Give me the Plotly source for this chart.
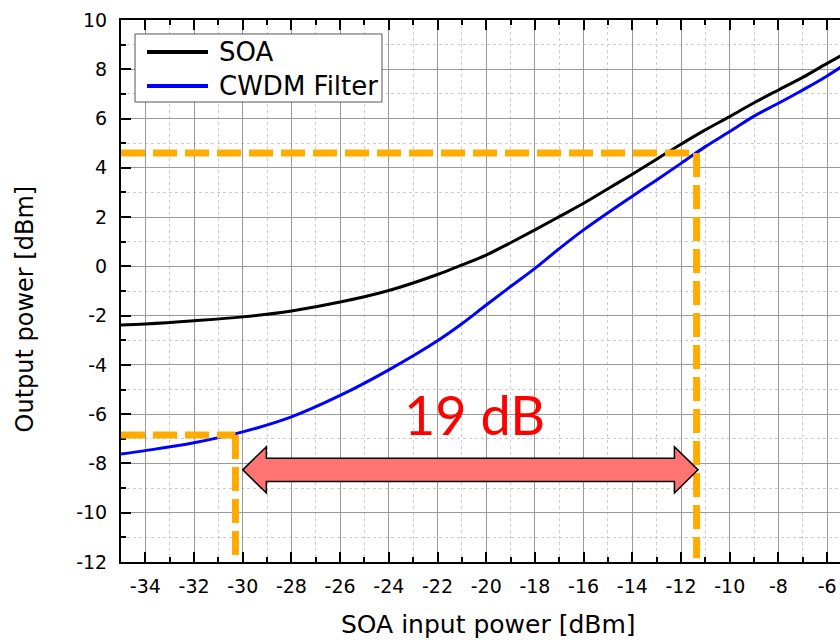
import plotly.graph_objects as go

# ---- data ----
x_in = [-35, -34, -32, -30, -28, -26, -24, -22, -21, -20, -19, -18, -17, -16,
        -15, -14, -13, -12, -11, -10, -9, -8, -7, -6, -5]
soa_out = [-2.38, -2.34, -2.21, -2.05, -1.81, -1.45, -0.98, -0.33, 0.06, 0.46,
           0.96, 1.48, 2.02, 2.56, 3.15, 3.74, 4.35, 4.96, 5.54, 6.08, 6.64,
           7.16, 7.67, 8.24, 8.78]
cwdm_out = [-7.62, -7.48, -7.16, -6.72, -6.11, -5.24, -4.20, -3.02, -2.33,
            -1.57, -0.82, -0.08, 0.72, 1.48, 2.18, 2.85, 3.51, 4.18, 4.86,
            5.47, 6.10, 6.62, 7.16, 7.73, 8.38]
series_names = ["SOA", "CWDM Filter"]
series_colors = ["black", "#0000FF"]

x_ticks = list(range(-34, -5, 2))
y_ticks = list(range(-12, 11, 2))

x_title = "SOA input power [dBm]"
y_title = "Output power [dBm]"

# annotation values
high_level = 4.6      # dBm, output level at upper marker
high_input = -11.36   # dBm input
low_level = -6.84
low_input = -30.3
arrow_left = -30.0
arrow_right = -11.3
arrow_y = -8.26
label_text = "19 dB"
label_x = -20.5
label_y = -6.0

FONT = "DejaVu Sans, Arial, sans-serif"
ORANGE = "#FFAB00"

fig = go.Figure()
for name, ys, col in zip(series_names, [soa_out, cwdm_out], series_colors):
    fig.add_trace(go.Scatter(x=x_in, y=ys, mode="lines", name=name, showlegend=False,
                             line=dict(color=col, width=3, shape="spline")))

x_min, y_min = -35, -12
dash = "24px,8px"
shapes = [
    dict(type="line", xref="x", yref="y", x0=x_min, x1=high_input, y0=high_level, y1=high_level,
         line=dict(color=ORANGE, width=7, dash=dash), layer="above"),
    dict(type="line", xref="x", yref="y", x0=high_input, x1=high_input, y0=high_level, y1=y_min + 0.15,
         line=dict(color=ORANGE, width=7, dash=dash), layer="above"),
    dict(type="line", xref="x", yref="y", x0=x_min, x1=low_input, y0=low_level, y1=low_level,
         line=dict(color=ORANGE, width=7, dash=dash), layer="above"),
    dict(type="line", xref="x", yref="y", x0=low_input, x1=low_input, y0=low_level, y1=y_min + 0.15,
         line=dict(color=ORANGE, width=7, dash=dash), layer="above"),
]

# double-headed arrow
head_len = 0.97
shaft_h = 0.47
head_h = 0.94
pts = [
    (arrow_left, arrow_y),
    (arrow_left + head_len, arrow_y + head_h),
    (arrow_left + head_len, arrow_y + shaft_h),
    (arrow_right - head_len, arrow_y + shaft_h),
    (arrow_right - head_len, arrow_y + head_h),
    (arrow_right, arrow_y),
    (arrow_right - head_len, arrow_y - head_h),
    (arrow_right - head_len, arrow_y - shaft_h),
    (arrow_left + head_len, arrow_y - shaft_h),
    (arrow_left + head_len, arrow_y - head_h),
]
path = "M " + " L ".join(f"{px},{py}" for px, py in pts) + " Z"
shapes.append(dict(type="path", xref="x", yref="y", path=path,
                   fillcolor="#FF7373", line=dict(color="black", width=1.5), layer="above"))

# legend box (drawn by hand so the sample lines match the original length)
shapes.append(dict(type="rect", xref="paper", yref="paper", x0=0.0195, x1=0.363,
                   y0=0.8487, y1=0.9742, fillcolor="white",
                   line=dict(color="#555555", width=1), layer="above"))
legend_rows_y = [0.941, 0.8782]
annotations = []
for name, col, ly in zip(series_names, series_colors, legend_rows_y):
    shapes.append(dict(type="line", xref="paper", yref="paper", x0=0.0362, x1=0.121,
                       y0=ly, y1=ly, line=dict(color=col, width=4), layer="above"))
    annotations.append(dict(xref="paper", yref="paper", x=0.1335, y=ly, text=name,
                            showarrow=False, xanchor="left", yanchor="middle",
                            font=dict(size=26, family=FONT, color="black")))

annotations.append(dict(x=label_x, y=label_y, xref="x", yref="y", text=label_text,
                        showarrow=False, font=dict(family="Lato, sans-serif", size=54, color="#FF0000")))
# axis titles
annotations.append(dict(xref="paper", yref="paper", x=0.5118, y=-0.1155, text=x_title,
                        showarrow=False, xanchor="center", yanchor="middle",
                        font=dict(size=25, family=FONT, color="black")))
annotations.append(dict(xref="paper", yref="paper", x=-0.1335, y=0.466, text=y_title,
                        showarrow=False, xanchor="center", yanchor="middle", textangle=-90,
                        font=dict(size=24, family=FONT, color="black")))

fig.update_layout(
    width=840, height=640,
    margin=dict(l=121, r=0, t=20, b=78),
    paper_bgcolor="white", plot_bgcolor="white",
    font=dict(family=FONT, color="black", size=19),
    shapes=shapes,
    annotations=annotations,
    showlegend=False,
)

fig.update_xaxes(
    range=[-35, -5.47], tickvals=x_ticks, ticktext=[str(v) for v in x_ticks],
    showline=True, linecolor="black", linewidth=2, mirror="ticks",
    ticks="inside", ticklen=10, tickwidth=2, tickcolor="black",
    showgrid=True, gridcolor="#9a9a9a", gridwidth=1, zeroline=False,
    minor=dict(dtick=1, tick0=0, showgrid=True, gridcolor="#cccccc", griddash="dot",
               ticks="inside", ticklen=5, tickwidth=2, tickcolor="black"),
    tickfont=dict(size=19), ticklabelstandoff=6,
)
fig.update_yaxes(
    range=[-12, 10], tickvals=y_ticks, ticktext=[str(v) for v in y_ticks],
    showline=True, linecolor="black", linewidth=2, mirror=False,
    ticks="inside", ticklen=10, tickwidth=2, tickcolor="black",
    showgrid=True, gridcolor="#9a9a9a", gridwidth=1, zeroline=False,
    minor=dict(dtick=1, tick0=0, showgrid=True, gridcolor="#cccccc", griddash="dot",
               ticks="inside", ticklen=5, tickwidth=2, tickcolor="black"),
    tickfont=dict(size=19), ticklabelstandoff=8,
)

fig.write_html("out.html")
